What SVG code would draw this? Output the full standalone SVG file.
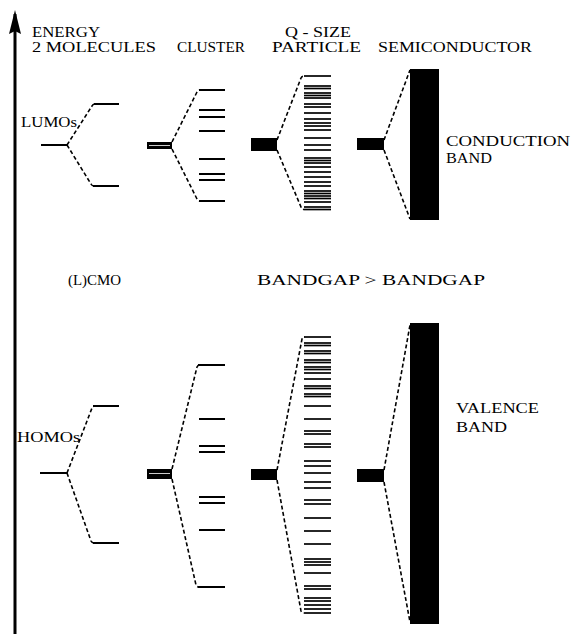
<svg xmlns="http://www.w3.org/2000/svg" width="572" height="634" viewBox="0 0 572 634">
<defs>
<style>
.t{font-family:"Liberation Serif","Times New Roman",serif;font-size:14.5px;fill:#000}
.lvl{stroke:#000;stroke-width:2;fill:none}
.fine{stroke:#000;stroke-width:1.7;fill:none}
.dash{stroke:#000;stroke-width:1.6;stroke-dasharray:4 2.5;fill:none}
</style>
</defs>
<rect width="572" height="634" fill="#fff"/>

<g id="axis">
<line x1="15" y1="634" x2="15" y2="14" stroke="#000" stroke-width="3"/>
<path d="M15 10 L21 34 L15 31 L9 34 Z" fill="#000"/>
</g>

<g id="headers">
<text class="t" x="32" y="37" textLength="68" lengthAdjust="spacingAndGlyphs">ENERGY</text>
<text class="t" x="32" y="52" textLength="124" lengthAdjust="spacingAndGlyphs">2 MOLECULES</text>
<text class="t" x="177" y="52" textLength="68" lengthAdjust="spacingAndGlyphs">CLUSTER</text>
<text class="t" x="285" y="37" textLength="66" lengthAdjust="spacingAndGlyphs">Q - SIZE</text>
<text class="t" x="272" y="52" textLength="89" lengthAdjust="spacingAndGlyphs">PARTICLE</text>
<text class="t" x="378" y="52" textLength="154" lengthAdjust="spacingAndGlyphs">SEMICONDUCTOR</text>
<text class="t" x="68" y="285" textLength="53" lengthAdjust="spacingAndGlyphs">(L)CMO</text>
<text class="t" x="257" y="285" textLength="228" lengthAdjust="spacingAndGlyphs">BANDGAP &gt; BANDGAP</text>
</g>

<g id="molecule-lumo">
<line class="lvl" x1="41" y1="145" x2="67" y2="145"/>
<line class="lvl" x1="94" y1="104" x2="119" y2="104"/>
<line class="lvl" x1="93" y1="186" x2="119" y2="186"/>
<text class="t" x="21" y="127" textLength="56" lengthAdjust="spacingAndGlyphs">LUMOs</text>
</g>

<g id="cluster-lumo">
<rect x="147" y="142" width="25" height="7" fill="#000"/>
<line x1="149" y1="145.5" x2="170" y2="145.5" stroke="#fff" stroke-width="0.8"/>
<g class="lvl">
<line x1="199" y1="90" x2="225" y2="90"/>
<line x1="199" y1="110" x2="225" y2="110"/>
<line x1="199" y1="117" x2="225" y2="117"/>
<line x1="199" y1="131" x2="225" y2="131"/>
<line x1="199" y1="159" x2="225" y2="159"/>
<line x1="199" y1="174" x2="225" y2="174"/>
<line x1="199" y1="180" x2="225" y2="180"/>
<line x1="199" y1="201" x2="225" y2="201"/>
</g>
</g>

<g id="qsize-lumo">
<rect x="251" y="138" width="26" height="13" fill="#000"/>
<g class="fine">
<line x1="304" y1="76" x2="331" y2="76"/>
<line x1="304" y1="86" x2="331" y2="86"/>
<line x1="304" y1="88.5" x2="331" y2="88.5"/>
<line x1="304" y1="93" x2="331" y2="93"/>
<line x1="304" y1="95.5" x2="331" y2="95.5"/>
<line x1="304" y1="98" x2="331" y2="98"/>
<line x1="304" y1="104" x2="331" y2="104"/>
<line x1="304" y1="107" x2="331" y2="107"/>
<line x1="304" y1="113" x2="331" y2="113"/>
<line x1="304" y1="119" x2="331" y2="119"/>
<line x1="304" y1="123" x2="331" y2="123"/>
<line x1="304" y1="126" x2="331" y2="126"/>
<line x1="304" y1="130" x2="331" y2="130"/>
<line x1="304" y1="138" x2="331" y2="138"/>
<line x1="304" y1="145" x2="331" y2="145"/>
<line x1="304" y1="150" x2="331" y2="150"/>
<line x1="304" y1="158" x2="331" y2="158"/>
<line x1="304" y1="160.5" x2="331" y2="160.5"/>
<line x1="304" y1="163" x2="331" y2="163"/>
<line x1="304" y1="167" x2="331" y2="167"/>
<line x1="304" y1="172" x2="331" y2="172"/>
<line x1="304" y1="177" x2="331" y2="177"/>
<line x1="304" y1="182" x2="331" y2="182"/>
<line x1="304" y1="186" x2="331" y2="186"/>
<line x1="304" y1="191" x2="331" y2="191"/>
<line x1="304" y1="193.5" x2="331" y2="193.5"/>
<line x1="304" y1="196" x2="331" y2="196"/>
<line x1="304" y1="198.5" x2="331" y2="198.5"/>
<line x1="304" y1="202" x2="331" y2="202"/>
<line x1="304" y1="207" x2="331" y2="207"/>
<line x1="304" y1="209.5" x2="331" y2="209.5"/>
</g>
</g>

<g id="semiconductor-lumo">
<rect x="357" y="138" width="27" height="12" fill="#000"/>
<rect x="410" y="69" width="29" height="151" fill="#000"/>
<text class="t" x="446" y="146" textLength="124" lengthAdjust="spacingAndGlyphs">CONDUCTION</text>
<text class="t" x="446" y="163" textLength="46" lengthAdjust="spacingAndGlyphs">BAND</text>
</g>

<g id="molecule-homo">
<line class="lvl" x1="40" y1="473" x2="67" y2="473"/>
<line class="lvl" x1="93" y1="406" x2="119" y2="406"/>
<line class="lvl" x1="93" y1="543" x2="119" y2="543"/>
<text class="t" x="17" y="442" textLength="63" lengthAdjust="spacingAndGlyphs">HOMOs</text>
</g>

<g id="cluster-homo">
<rect x="147" y="469" width="25" height="10" fill="#000"/>
<line x1="149" y1="473.5" x2="170" y2="473.5" stroke="#fff" stroke-width="0.8"/>
<g class="lvl">
<line x1="198" y1="365" x2="225" y2="365"/>
<line x1="199" y1="419" x2="225" y2="419"/>
<line x1="199" y1="446" x2="225" y2="446"/>
<line x1="199" y1="452" x2="225" y2="452"/>
<line x1="199" y1="497" x2="225" y2="497"/>
<line x1="199" y1="503" x2="225" y2="503"/>
<line x1="199" y1="530" x2="225" y2="530"/>
<line x1="198" y1="587" x2="225" y2="587"/>
</g>
</g>

<g id="qsize-homo">
<rect x="251" y="469" width="26" height="11" fill="#000"/>
<g class="fine">
<line x1="304" y1="337" x2="331" y2="337"/>
<line x1="304" y1="343" x2="331" y2="343"/>
<line x1="304" y1="345.5" x2="331" y2="345.5"/>
<line x1="304" y1="351" x2="331" y2="351"/>
<line x1="304" y1="353.5" x2="331" y2="353.5"/>
<line x1="304" y1="360" x2="331" y2="360"/>
<line x1="304" y1="362.5" x2="331" y2="362.5"/>
<line x1="304" y1="367" x2="331" y2="367"/>
<line x1="304" y1="369.5" x2="331" y2="369.5"/>
<line x1="304" y1="373" x2="331" y2="373"/>
<line x1="304" y1="379" x2="331" y2="379"/>
<line x1="304" y1="386" x2="331" y2="386"/>
<line x1="304" y1="388.5" x2="331" y2="388.5"/>
<line x1="304" y1="394" x2="331" y2="394"/>
<line x1="304" y1="396.5" x2="331" y2="396.5"/>
<line x1="304" y1="406" x2="331" y2="406"/>
<line x1="304" y1="419" x2="331" y2="419"/>
<line x1="304" y1="431" x2="331" y2="431"/>
<line x1="304" y1="434" x2="331" y2="434"/>
<line x1="304" y1="444" x2="331" y2="444"/>
<line x1="304" y1="447" x2="331" y2="447"/>
<line x1="304" y1="461" x2="331" y2="461"/>
<line x1="304" y1="466" x2="331" y2="466"/>
<line x1="304" y1="473" x2="331" y2="473"/>
<line x1="304" y1="482" x2="331" y2="482"/>
<line x1="304" y1="488" x2="331" y2="488"/>
<line x1="304" y1="500" x2="331" y2="500"/>
<line x1="304" y1="504" x2="331" y2="504"/>
<line x1="304" y1="518" x2="331" y2="518"/>
<line x1="304" y1="531" x2="331" y2="531"/>
<line x1="304" y1="544" x2="331" y2="544"/>
<line x1="304" y1="559" x2="331" y2="559"/>
<line x1="304" y1="562" x2="331" y2="562"/>
<line x1="304" y1="565" x2="331" y2="565"/>
<line x1="304" y1="573" x2="331" y2="573"/>
<line x1="304" y1="586" x2="331" y2="586"/>
<line x1="304" y1="589" x2="331" y2="589"/>
<line x1="304" y1="598" x2="331" y2="598"/>
<line x1="304" y1="601" x2="331" y2="601"/>
<line x1="304" y1="605" x2="331" y2="605"/>
<line x1="304" y1="609" x2="331" y2="609"/>
<line x1="304" y1="613" x2="331" y2="613"/>
</g>
</g>

<g id="semiconductor-homo">
<rect x="357" y="469" width="27" height="13" fill="#000"/>
<rect x="410" y="323" width="29" height="301" fill="#000"/>
<text class="t" x="456" y="413" textLength="83" lengthAdjust="spacingAndGlyphs">VALENCE</text>
<text class="t" x="456" y="432" textLength="51" lengthAdjust="spacingAndGlyphs">BAND</text>
</g>

<g id="connectors" class="dash">
<path d="M67 145 L92 106 Q93 104 95 104"/>
<path d="M67 145 L91 184 Q92 186 94 186"/>
<path d="M172 142 L197 92 Q198 90 200 90"/>
<path d="M172 149 L197 199 Q198 201 200 201"/>
<path d="M277 140 L301 78 Q302 76 304 76"/>
<path d="M277 150 L301 207 Q302 209.5 304 209.5"/>
<path d="M384 140 L410 70"/>
<path d="M384 150 L410 219"/>
<path d="M67 473 L92 408 Q93 406 95 406"/>
<path d="M67 473 L91 541 Q92 543 94 543"/>
<path d="M172 469 L197 367 Q198 365 200 365"/>
<path d="M172 479 L196 585 Q197 587 199 587"/>
<path d="M277 470 L302 339 Q303 337 305 337"/>
<path d="M277 480 L301 611 Q302 613 304 613"/>
<path d="M384 470 L410 325"/>
<path d="M384 482 L410 622"/>
</g>
</svg>
